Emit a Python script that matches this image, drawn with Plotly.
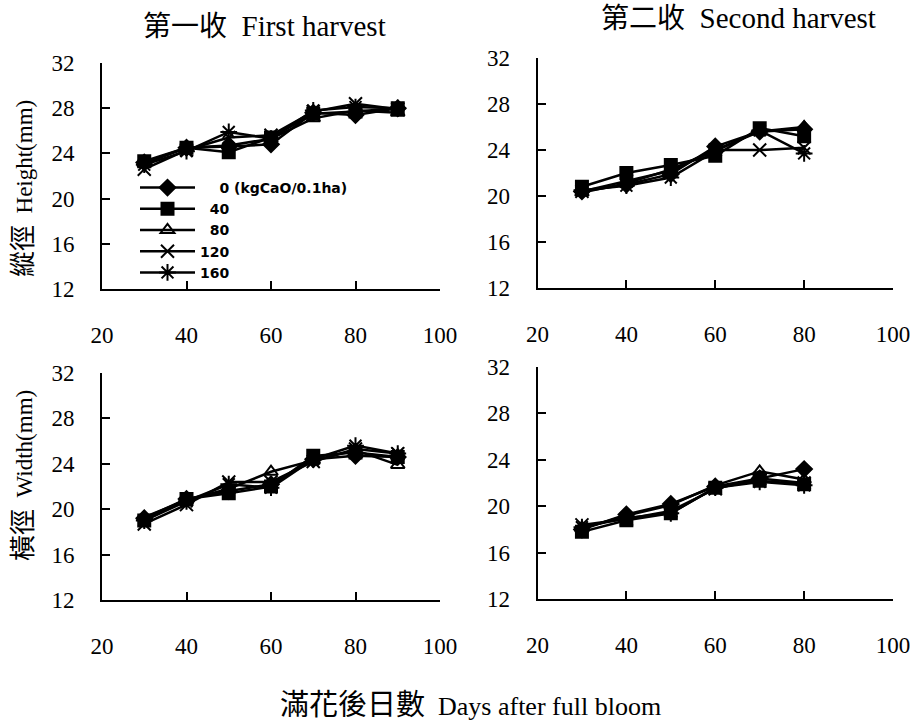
import plotly.graph_objects as go

days_first = [30, 40, 50, 60, 70, 80, 90]
days_second = [30, 40, 50, 60, 70, 80]
rates = ["0 (kgCaO/0.1ha)", "40", "80", "120", "160"]
legend_labels = ["\u00a0\u00a0\u00a0\u00a00 (kgCaO/0.1ha)", "\u00a0\u00a040", "\u00a0\u00a080", "120", "160"]

height_first = {
    "0": [23.2, 24.5, 24.6, 24.8, 27.6, 27.4, 28.0],
    "40": [23.3, 24.5, 24.1, 25.4, 27.5, 27.7, 28.0],
    "80": [23.1, 24.5, 24.7, 25.3, 27.1, 27.8, 27.6],
    "120": [22.6, 24.3, 25.4, 25.6, 27.7, 28.4, 27.9],
    "160": [23.0, 24.2, 25.9, 25.3, 27.8, 28.1, 28.0],
}
height_second = {
    "0": [20.4, 21.0, 21.9, 24.3, 25.6, 25.8],
    "40": [20.8, 22.0, 22.7, 23.5, 25.9, 25.2],
    "80": [20.3, 21.1, 22.3, 24.0, 25.6, 26.0],
    "120": [20.4, 21.3, 22.2, 24.0, 24.0, 24.2],
    "160": [20.5, 20.9, 21.6, 23.9, 25.7, 23.7],
}
width_first = {
    "0": [19.2, 20.9, 21.6, 22.2, 24.4, 24.7, 24.6],
    "40": [19.0, 20.9, 21.4, 22.0, 24.7, 25.0, 24.6],
    "80": [19.3, 20.8, 21.8, 23.3, 24.3, 25.2, 23.9],
    "120": [18.7, 20.4, 22.4, 22.4, 24.2, 25.3, 24.9],
    "160": [19.0, 20.7, 22.2, 21.9, 24.4, 25.6, 24.9],
}
width_second = {
    "0": [18.0, 19.3, 20.2, 21.7, 22.4, 23.2],
    "40": [17.8, 18.8, 19.4, 21.6, 22.2, 21.9],
    "80": [18.1, 19.2, 20.1, 21.8, 23.0, 22.3],
    "120": [18.4, 18.9, 19.6, 21.5, 22.4, 22.0],
    "160": [18.2, 19.0, 19.4, 21.6, 22.1, 21.8],
}

keys = ["0", "40", "80", "120", "160"]
symbols = ["diamond", "square", "triangle-up-open", "x-thin-open", "asterisk-open"]
sizes = [12, 12, 12, 13, 14]

serif = "Liberation Serif, Noto Sans CJK TC"

fig = go.Figure()

panels = [
    (days_first, height_first, "x", "y"),
    (days_second, height_second, "x2", "y2"),
    (days_first, width_first, "x3", "y3"),
    (days_second, width_second, "x4", "y4"),
]

for pi, (xs, data, xa, ya) in enumerate(panels):
    for k, key in enumerate(keys):
        fig.add_trace(go.Scatter(
            x=xs, y=data[key], xaxis=xa, yaxis=ya,
            mode="lines+markers",
            name=legend_labels[k], legendgroup=key, showlegend=(pi == 0),
            line=dict(color="black", width=2.5),
            marker=dict(symbol=symbols[k], size=sizes[k], color="black",
                        line=dict(color="black", width=2)),
        ))

axis_common = dict(
    showline=True, linecolor="black", linewidth=2, mirror=False,
    ticks="inside", ticklen=8, tickwidth=2, tickcolor="black",
    showgrid=False, zeroline=False,
    tickfont=dict(family=serif, size=23, color="black"),
)

xdom_l = [102 / 918, 440 / 918]
xdom_r = [537.5 / 918, 893 / 918]
ydom_tl = [1 - 289 / 726, 1 - 63 / 726]
ydom_tr = [1 - 288 / 726, 1 - 58 / 726]
ydom_bl = [1 - 600 / 726, 1 - 373 / 726]
ydom_br = [1 - 599.3 / 726, 1 - 366.8 / 726]

def xax(dom, anchor):
    return dict(axis_common, domain=dom, anchor=anchor, range=[20, 100],
                tickvals=[20, 40, 60, 80, 100], ticklabelstandoff=24)

def yax(dom, anchor):
    return dict(axis_common, domain=dom, anchor=anchor, range=[12, 32],
                tickvals=[12, 16, 20, 24, 28, 32], ticklabelstandoff=21)

fig.update_layout(
    width=918, height=726,
    margin=dict(l=0, r=0, t=0, b=0, autoexpand=False),
    paper_bgcolor="white", plot_bgcolor="white",
    xaxis=xax(xdom_l, "y"), yaxis=yax(ydom_tl, "x"),
    xaxis2=xax(xdom_r, "y2"), yaxis2=yax(ydom_tr, "x2"),
    xaxis3=xax(xdom_l, "y3"), yaxis3=yax(ydom_bl, "x3"),
    xaxis4=xax(xdom_r, "y4"), yaxis4=yax(ydom_br, "x4"),
    showlegend=True,
    legend=dict(
        x=135 / 918, y=1 - 172 / 726, xanchor="left", yanchor="top",
        bgcolor="rgba(0,0,0,0)", itemwidth=55,
        font=dict(family="DejaVu Sans", size=14, color="black", weight="bold"),
        tracegroupgap=0,
    ),
)

def mixed(cjk, eng, cjk_size, eng_size):
    return (f'<span style="font-size:{cjk_size}px">{cjk}</span>'
            f'<span style="font-size:{eng_size}px">\u00a0\u00a0{eng}</span>')

annots = [
    dict(text=mixed("第一收", "First harvest", 28, 29), x=264 / 918, y=1 - 26 / 726, textangle=0),
    dict(text=mixed("第二收", "Second harvest", 28, 29), x=738 / 918, y=1 - 18 / 726, textangle=0),
    dict(text=mixed("縱徑", "Height(mm)", 26, 23), x=23 / 918, y=1 - 189 / 726, textangle=-90),
    dict(text=mixed("橫徑", "Width(mm)", 26, 23), x=23 / 918, y=1 - 476 / 726, textangle=-90),
    dict(text=mixed("滿花後日數", "Days after full bloom", 29, 26), x=470 / 918, y=1 - 705 / 726, textangle=0),
]
for a in annots:
    fig.add_annotation(
        text=a["text"], x=a["x"], y=a["y"], xref="paper", yref="paper",
        xanchor="center", yanchor="middle", textangle=a["textangle"],
        showarrow=False, font=dict(family=serif, size=24, color="black"),
    )

fig.write_html("out.html", config={"displayModeBar": False},
               post_script="document.body.style.margin='0';document.body.style.padding='0';")
